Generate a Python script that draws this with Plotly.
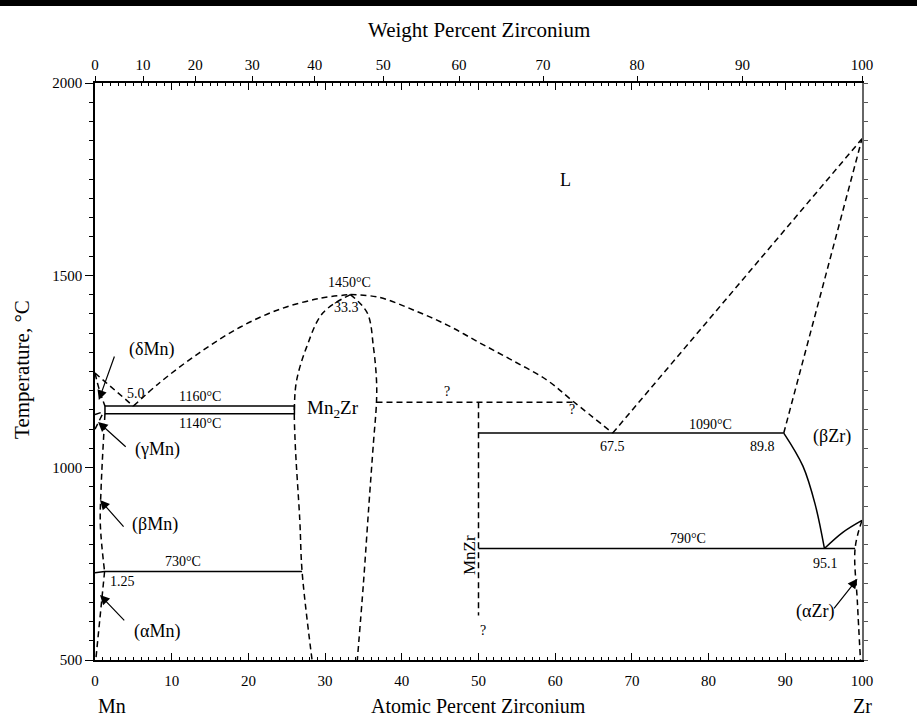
import plotly.graph_objects as go

# ---------------- data (atomic % Zr, temperature in °C) ----------------
MASS_MN, MASS_ZR = 54.938, 91.224
wt_ticks = [0, 10, 20, 30, 40, 50, 60, 70, 80, 90, 100]

liq_mn_x = [0, 5.0]
liq_mn_t = [1246, 1160]
liq_left_x = [5.0, 8.5, 13.7, 18.9, 24.1, 29.3, 33.3]
liq_left_t = [1160, 1222, 1300, 1365, 1412, 1440, 1450]
liq_mid_x = [33.3, 37, 41.5, 46, 50.2, 54.5, 58.9, 62.3, 67.5]
liq_mid_t = [1450, 1443, 1410, 1370, 1324, 1278, 1228, 1173, 1090]
liq_right_x = [67.5, 100]
liq_right_t = [1090, 1855]
sol_bzr_x = [89.8, 100]
sol_bzr_t = [1090, 1855]

mn2zr_left_x = [33.3, 29.7, 27.6, 26.3, 26.0, 26.1, 26.7, 27.0, 28.3]
mn2zr_left_t = [1450, 1402, 1314, 1228, 1160, 1064, 864, 730, 500]
mn2zr_right_x = [33.3, 35.5, 36.3, 36.7, 36.7, 36.3, 35.7, 35.0, 34.2]
mn2zr_right_t = [1450, 1402, 1314, 1228, 1170, 1064, 900, 700, 500]

q_line_x = [36.7, 62.3]
q_line_t = [1170, 1170]
mnzr_x = [50, 50]
mnzr_t = [1170, 616]

dmn_x = [0, 0.6, 1.3]
dmn_t = [1246, 1200, 1160]
gmn_a_x = [0, 1.0]
gmn_a_t = [1138, 1145]
gmn_b_x = [0, 1.0]
gmn_b_t = [1100, 1140]
bmn_x = [1.3, 0.8, 0.7, 1.25]
bmn_t = [1140, 950, 850, 730]
amn_x = [1.25, 0.1]
amn_t = [730, 500]
azr_x = [100, 99.1, 99.4, 99.8]
azr_t = [863, 790, 650, 500]

box_x = [1.3, 26.0, 26.0, 1.3, 1.3]
box_t = [1160, 1160, 1140, 1140, 1160]
eut730_x = [0, 1.25, 27.0]
eut730_t = [727, 730, 730]
eut1090_x = [50, 89.8]
eut1090_t = [1090, 1090]
eut790_x = [50, 99.1]
eut790_t = [790, 790]
bzr_solvus_x = [89.8, 92.3, 93.9, 95.1]
bzr_solvus_t = [1090, 1004, 904, 790]
bzr_azr_x = [95.1, 97.5, 100]
bzr_azr_t = [790, 832, 863]


def wt_to_at(w):
    if w >= 100:
        return 100.0
    nz = w / MASS_ZR
    nm = (100 - w) / MASS_MN
    return 100 * nz / (nz + nm)


wt_pos = [wt_to_at(w) for w in wt_ticks]

FONT = "Liberation Serif"
fig = go.Figure()

dashed = [
    (liq_mn_x, liq_mn_t), (liq_left_x, liq_left_t), (liq_mid_x, liq_mid_t),
    (liq_right_x, liq_right_t), (sol_bzr_x, sol_bzr_t),
    (mn2zr_left_x, mn2zr_left_t), (mn2zr_right_x, mn2zr_right_t),
    (q_line_x, q_line_t), (mnzr_x, mnzr_t), (dmn_x, dmn_t),
    (gmn_a_x, gmn_a_t), (gmn_b_x, gmn_b_t), (bmn_x, bmn_t),
    (amn_x, amn_t), (azr_x, azr_t),
]
for xs, ts in dashed:
    fig.add_trace(go.Scatter(x=xs, y=ts, mode="lines", line=dict(color="black", width=1.5, dash="6px,4px"),
                             line_shape="spline", hoverinfo="skip", showlegend=False))

solid = [
    (box_x, box_t, "linear"), (eut730_x, eut730_t, "linear"), (eut1090_x, eut1090_t, "linear"),
    (eut790_x, eut790_t, "linear"), (bzr_solvus_x, bzr_solvus_t, "spline"),
    (bzr_azr_x, bzr_azr_t, "spline"),
]
for xs, ts, shp in solid:
    fig.add_trace(go.Scatter(x=xs, y=ts, mode="lines", line=dict(color="black", width=1.5),
                             line_shape=shp, hoverinfo="skip", showlegend=False))

# dummy traces to anchor overlay axes
fig.add_trace(go.Scatter(x=[0, 100], y=[500, 2000], xaxis="x2", yaxis="y", mode="markers",
                         marker=dict(opacity=0), hoverinfo="skip", showlegend=False))
fig.add_trace(go.Scatter(x=[0, 100], y=[500, 2000], xaxis="x3", yaxis="y", mode="markers",
                         marker=dict(opacity=0), hoverinfo="skip", showlegend=False))
fig.add_trace(go.Scatter(x=[0, 100], y=[500, 2000], xaxis="x", yaxis="y2", mode="markers",
                         marker=dict(opacity=0), hoverinfo="skip", showlegend=False))

ann = []


def txt(x, y, s, size=14, bold=False, xanchor="center", angle=0, xref="x", yref="y"):
    ann.append(dict(x=x, y=y, xref=xref, yref=yref, text=(f"<b>{s}</b>" if bold else s),
                    showarrow=False, xanchor=xanchor, yanchor="middle", textangle=angle,
                    font=dict(family=FONT, size=size, color="black")))


def arrow(hx, hy, tx, ty):
    ann.append(dict(x=hx, y=hy, ax=tx, ay=ty, xref="x", yref="y", axref="x", ayref="y",
                    text="", showarrow=True, arrowhead=2, arrowsize=1.6, arrowwidth=1.2,
                    arrowcolor="black"))


txt(61.3, 1748, "L", 18)
txt(100.4, 1852, "1855°C", 14, True, "left")
txt(100.4, 869, "863°C", 14, True, "left")
txt(-0.7, 1249, "1246°C", 14, True, "right")
txt(-0.7, 1155, "1138°C", 14, True, "right")
txt(-0.7, 1093, "1100°C", 14, True, "right")
txt(-0.7, 726, "727°C", 14, True, "right")
txt(33.2, 1482, "1450°C", 14)
txt(32.8, 1417, "33.3", 14)
txt(5.4, 1194, "5.0", 14)
txt(13.7, 1184, "1160°C", 14)
txt(13.7, 1116, "1140°C", 14)
txt(31.0, 1152, "Mn<sub>2</sub>Zr", 19)
txt(45.9, 1197, "?", 14)
txt(62.2, 1150, "?", 14)
txt(48.9, 773, "MnZr", 17, angle=-90)
txt(50.6, 578, "?", 14)
txt(80.2, 1113, "1090°C", 14)
txt(67.5, 1054, "67.5", 14)
txt(87.0, 1054, "89.8", 14)
txt(96.1, 1080, "(βZr)", 18)
txt(77.3, 817, "790°C", 14)
txt(95.3, 752, "95.1", 14)
txt(11.5, 755, "730°C", 14)
txt(3.6, 703, "1.25", 14)
txt(7.4, 1308, "(δMn)", 18)
txt(8.2, 1046, "(γMn)", 18)
txt(7.8, 851, "(βMn)", 18)
txt(8.1, 573, "(αMn)", 18)
txt(93.9, 625, "(αZr)", 18)

arrow(0.5, 1176, 2.6, 1293)
arrow(0.4, 1119, 4.2, 1051)
arrow(0.65, 916, 3.9, 843)
arrow(0.65, 669, 4.0, 599)
arrow(99.4, 711, 96.2, 630)

# axis titles
txt(-0.095, 0.503, "Temperature, °C", 21, angle=-90, xref="paper", yref="paper")
txt(0.022, -0.079, "Mn", 20, xref="paper", yref="paper")
txt(0.5, -0.079, "Atomic Percent Zirconium", 20, xref="paper", yref="paper")
txt(1.0, -0.079, "Zr", 20, xref="paper", yref="paper")
txt(0.5, 1.092, "Weight Percent Zirconium", 21, xref="paper", yref="paper")

fig.update_layout(
    width=917, height=721,
    margin=dict(l=95, r=55, t=83, b=61),
    paper_bgcolor="white", plot_bgcolor="white",
    font=dict(family=FONT, size=14, color="black"),
    annotations=ann,
    xaxis=dict(range=[0, 100], dtick=10, tick0=0, ticks="inside", ticklen=7, tickwidth=1.2,
               tickcolor="black", showline=True, linecolor="black", linewidth=1.5,
               showgrid=False, zeroline=False, tickfont=dict(family=FONT, size=15),
               minor=dict(dtick=1, ticks="inside", ticklen=3, tickcolor="black", showgrid=False),
               ticklabelstandoff=6),
    xaxis2=dict(range=[0, 100], overlaying="x", side="top", anchor="y", dtick=10, tick0=0,
                ticks="inside", ticklen=7, tickwidth=1.2, tickcolor="black",
                showticklabels=False, showline=True, linecolor="black", linewidth=1.5,
                showgrid=False, zeroline=False,
                minor=dict(dtick=1, ticks="inside", ticklen=3, tickcolor="black", showgrid=False)),
    xaxis3=dict(range=[0, 100], overlaying="x", side="top", anchor="y",
                tickmode="array", tickvals=wt_pos, ticktext=[str(w) for w in wt_ticks],
                ticks="outside", ticklen=6, tickwidth=1.2, tickcolor="black",
                showline=False, showgrid=False, zeroline=False,
                tickfont=dict(family=FONT, size=15)),
    yaxis=dict(range=[500, 2000], dtick=500, tick0=500, ticks="outside", ticklen=8, tickwidth=1.2,
               tickcolor="black", showline=True, linecolor="black", linewidth=1.5,
               showgrid=False, zeroline=False, tickfont=dict(family=FONT, size=15),
               minor=dict(dtick=50, ticks="outside", ticklen=4, tickcolor="black", showgrid=False)),
    yaxis2=dict(range=[500, 2000], overlaying="y", side="right", anchor="x", dtick=50, tick0=500,
                ticks="outside", ticklen=4, tickwidth=1, tickcolor="#555",
                showticklabels=False, showline=True, linecolor="#666", linewidth=1.5,
                showgrid=False, zeroline=False),
    shapes=[dict(type="rect", xref="paper", yref="paper", x0=-0.2, x1=1.2,
                 y0=1 + 77 / 577, y1=1 + 90 / 577, fillcolor="black", line=dict(width=0))],
)

fig.write_html("out.html", config={"displayModeBar": False},
               post_script="document.body.style.margin='0px';document.body.style.overflow='hidden';")
